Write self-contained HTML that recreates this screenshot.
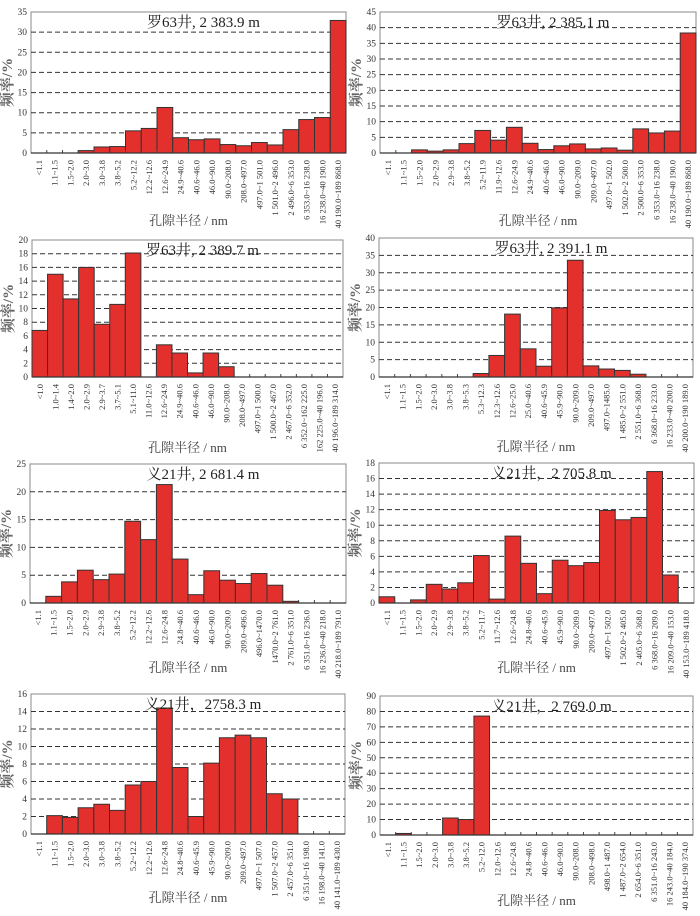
<!DOCTYPE html>
<html><head><meta charset="utf-8">
<style>
html,body{margin:0;padding:0;background:#fff;}
svg{display:block;}
text{font-family:"Liberation Serif","Noto Serif CJK SC","Noto Sans CJK SC",serif;}
</style></head>
<body>
<svg id="fig" width="700" height="916" viewBox="0 0 700 916" xmlns="http://www.w3.org/2000/svg"></svg>
<script>
const titles=["罗63井, 2 383.9 m","罗63井, 2 385.1 m","罗63井, 2 389.7 m","罗63井, 2 391.1 m","义21井, 2 681.4 m","义21井，2 705.8 m","义21井，2758.3  m","义21井，2 769.0  m"];
const yMaxes=[35,45,20,40,25,18,16,90];
const yStepList=[5,5,2,5,5,2,2,10];
const cats1=["<1.1","1.1~1.5","1.5~2.0","2.0~3.0","3.0~3.8","3.8~5.2","5.2~12.2","12.2~12.6","12.6~24.9","24.9~40.6","40.6~46.0","46.0~90.0","90.0~208.0","208.0~497.0","497.0~1 501.0","1 501.0~2 496.0","2 496.0~6 353.0","6 353.0~16 238.0","16 238.0~40 190.0","40 190.0~189 868.0"];
const cats2=["<1.1","1.1~1.5","1.5~2.0","2.0~2.9","2.9~3.8","3.8~5.2","5.2~11.9","11.9~12.6","12.6~24.9","24.9~40.6","40.6~46.0","46.0~90.0","90.0~209.0","209.0~497.0","497.0~1 502.0","1 502.0~2 500.0","2 500.0~6 353.0","6 353.0~16 238.0","16 238.0~40 190.0","40 190.0~189 868.0"];
const cats3=["<1.0","1.0~1.4","1.4~2.0","2.0~2.9","2.9~3.7","3.7~5.1","5.1~11.0","11.0~12.6","12.6~24.9","24.9~40.6","40.6~46.0","46.0~90.0","90.0~208.0","208.0~497.0","497.0~1 500.0","1 500.0~2 467.0","2 467.0~6 352.0","6 352.0~162 225.0","162 225.0~40 196.0","40 196.0~189 314.0"];
const cats4=["<1.1","1.1~1.5","1.5~2.0","2.0~3.0","3.0~3.8","3.8~5.3","5.3~12.3","12.3~12.6","12.6~25.0","25.0~40.6","40.6~45.9","45.9~90.0","90.0~209.0","209.0~497.0","497.0~1485.0","1 485.0~2 551.0","2 551.0~6 368.0","6 368.0~16 233.0","16 233.0~40 200.0","40 200.0~190 189.0"];
const cats5=["<1.1","1.1~1.5","1.5~2.0","2.0~2.9","2.9~3.8","3.8~5.2","5.2~12.2","12.2~12.6","12.6~24.8","24.8~40.6","40.6~46.0","46.0~90.0","90.0~209.0","209.0~496.0","496.0~1470.0","1470.0~2 761.0","2 761.0~6 351.0","6 351.0~16 236.0","16 236.0~40 218.0","40 218.0~189 791.0"];
const cats6=["<1.1","1.1~1.5","1.5~2.0","2.0~2.9","2.9~3.8","3.8~5.2","5.2~11.7","11.7~12.6","12.6~24.8","24.8~40.6","40.6~45.9","45.9~90.0","90.0~209.0","209.0~497.0","497.0~1 502.0","1 502.0~2 405.0","2 405.0~6 368.0","6 368.0~16 209.0","16 209.0~40 153.0","40 153.0~189 418.0"];
const cats7=["<1.1","1.1~1.5","1.5~2.0","2.0~3.0","3.0~3.8","3.8~5.2","5.2~12.2","12.2~12.6","12.6~24.8","24.8~40.6","40.6~45.9","45.9~90.0","90.0~209.0","209.0~497.0","497.0~1 507.0","1 507.0~2 457.0","2 457.0~6 351.0","6 351.0~16 198.0","16 198.0~40 141.0","40 141.0~189 430.0"];
const cats8=["<1.1","1.1~1.5","1.5~2.0","2.0~3.0","3.0~3.8","3.8~5.2","5.2~12.0","12.0~12.6","12.6~24.8","24.8~40.6","40.6~46.0","46.0~90.0","90.0~208.0","208.0~498.0","498.0~1 487.0","1 487.0~2 654.0","2 654.0~6 351.0","6 351.0~16 243.0","16 243.0~40 184.0","40 184.0~190 374.0"];
const vals1=[0,0,0,0.6,1.5,1.6,5.5,6.1,11.3,3.8,3.3,3.5,2.1,1.8,2.6,2.0,5.8,8.3,8.8,32.9];
const vals2=[0,0,1.0,0.6,1.0,3.0,7.2,4.1,8.2,3.1,1.1,2.3,2.9,1.3,1.6,0.9,7.7,6.4,7.0,38.3];
const vals3=[6.8,15.0,11.4,16.0,7.7,10.6,18.1,0,4.7,3.5,0.6,3.5,1.5,0,0,0,0,0,0,0];
const vals4=[0,0,0,0,0,0,1.0,6.2,18.1,8.1,3.1,19.9,33.6,3.2,2.3,1.9,0.8,0,0,0];
const vals5=[0,1.2,3.8,5.9,4.2,5.2,14.7,11.4,21.3,7.9,1.5,5.8,4.1,3.5,5.3,3.2,0.3,0,0,0];
const vals6=[0.8,0,0.4,2.4,1.8,2.6,6.1,0.5,8.6,5.1,1.2,5.5,4.8,5.2,11.9,10.7,11.0,16.9,3.6,0];
const vals7=[0,2.1,1.9,3.0,3.4,2.7,5.6,6.0,14.4,7.6,2.0,8.1,11.0,11.3,11.0,4.6,4.0,0,0,0];
const vals8=[0,1,0,0,11,10,77,0,0,0,0,0,0,0,0,0,0,0,0,0];

const catsList=[cats1,cats2,cats3,cats4,cats5,cats6,cats7,cats8];
const valsList=[vals1,vals2,vals3,vals4,vals5,vals6,vals7,vals8];
const boxes=[[31,12,346,153,221],[380,12,696,153,221],[32,240,343,377,448],[379,238,693,377,447],[30,464,346,603,668],[379,463,694,603,668],[31,694,345,834,898],[380,696,693,835,901]];

const NS="http://www.w3.org/2000/svg";
const svg=document.getElementById('fig');
function mk(tag,attrs,parent){const e=document.createElementNS(NS,tag);for(const k in attrs)e.setAttribute(k,attrs[k]);(parent||svg).appendChild(e);return e;}

for(let p=0;p<8;p++){
  const [L,T,R,B,XT]=boxes[p];
  const cats=catsList[p], vals=valsList[p], ymax=yMaxes[p], step=yStepList[p];
  const n=cats.length, bw=(R-L)/n;
  const xs=i=>L+i*bw;
  const ys=v=>B-(v/ymax)*(B-T);
  const g=mk('g',{});
  
  
  const fr=mk('rect',{x:L,y:T,width:R-L,height:B-T,fill:'#fff',stroke:'#888','stroke-width':1},g);
  
  
  for(let v=0;v<=ymax+1e-9;v+=step){
    const y=ys(v);
    if(v>0&&v<ymax-1e-9){
      const gl=mk('line',{x1:L,x2:R,y1:y,y2:y,stroke:'#333','stroke-width':1,'stroke-dasharray':'5,3'},g);
      
      
    }
    const tl=mk('text',{x:L-4,y:y+3,'text-anchor':'end','font-size':9.5,fill:'#333'},g);
    tl.textContent=v;
    
    
  }
  for(let i=0;i<n;i++){
    if(vals[i]>0){
      const r=mk('rect',{x:xs(i),y:ys(vals[i]),width:bw,height:B-ys(vals[i]),fill:'#e3302c',stroke:'#333','stroke-width':1},g);
      
      
    }
    if(i>0){
      const t=mk('line',{x1:xs(i),x2:xs(i),y1:B,y2:B-3,stroke:'#444','stroke-width':1},g);
      
      
    }
    const cx=xs(i)+bw/2+3, cy=B+7;
    const lb=mk('text',{x:cx,y:cy,'text-anchor':'end','font-size':8.5,fill:'#333',transform:'rotate(-90 '+cx+' '+cy+')'},g);
    lb.textContent=cats[i];
    
    
  }
  mk('line',{x1:L,x2:R,y1:B,y2:B,stroke:'#333','stroke-width':1.2},g);
  const tt=mk('text',{x:(L+R)/2+15,y:T+15,'text-anchor':'middle','font-size':15,fill:'#222'},g);
  tt.textContent=titles[p];
  
  
  const yx=L-19, yy=(T+B)/2;
  const yt=mk('text',{x:yx,y:yy,'text-anchor':'middle','font-size':15,'font-weight':'bold',fill:'#666',transform:'rotate(-90 '+yx+' '+yy+')'},g);
  yt.textContent='频率/%';
  
  
  const xt=mk('text',{x:(L+R)/2,y:XT+4,'text-anchor':'middle','font-size':13,fill:'#444'},g);
  xt.textContent='孔隙半径 / nm';
  
  
}
</script>
</body></html>
